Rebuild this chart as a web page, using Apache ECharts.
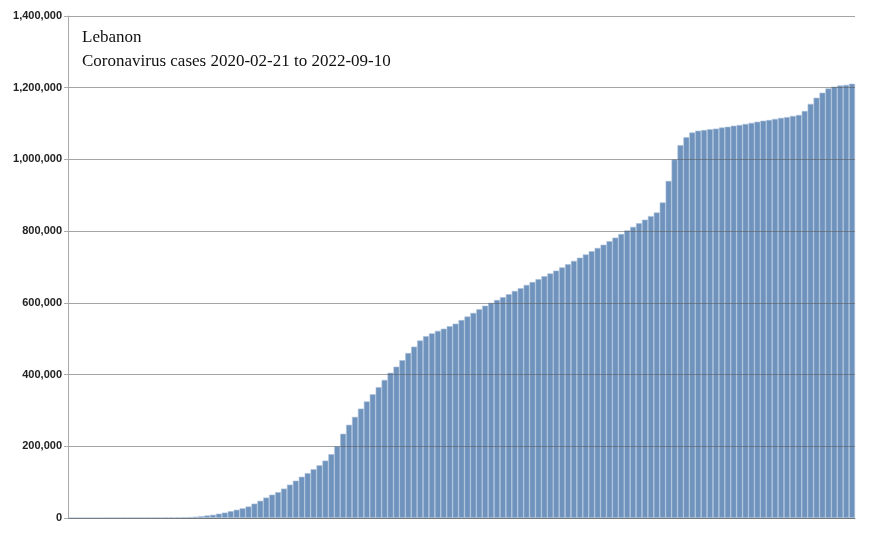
<!DOCTYPE html>
<html><head><meta charset="utf-8">
<script src="https://cdn.jsdelivr.net/npm/echarts@6/dist/echarts.min.js"></script>
<style>html,body{margin:0;padding:0;background:#fff}#c{width:875px;height:534px}</style>
</head><body><div id="c"></div>
<script>
const weekIndex = Array.from({length:133},(_, i)=>'W'+i);
const cases = [0,3,16,50,150,300,450,550,650,700,730,750,800,900,1000,1100,1200,1400,1600,2000,
2500,3500,5000,7000,9000,12000,15000,19000,23000,27000,32000,40000,48000,57000,65000,72000,82000,93000,104000,115000,
125000,136000,147000,160000,178000,200000,235000,260000,282000,305000,325000,345000,365000,385000,405000,422000,440000,460000,478000,495000,
507000,515000,522000,528000,535000,542000,552000,562000,572000,582000,592000,600000,608000,616000,624000,633000,641000,650000,658000,666000,
674000,682000,690000,699000,708000,717000,726000,735000,744000,753000,762000,772000,782000,792000,802000,812000,822000,832000,842000,852000,
880000,940000,1000000,1040000,1062000,1075000,1080000,1082000,1084000,1086000,1089000,1091000,1094000,1096000,1099000,1102000,1105000,1108000,1110000,1113000,
1116000,1118000,1121000,1124000,1135000,1155000,1172000,1186000,1198000,1203000,1206000,1208000,1211000];
const titleLines = ['Lebanon','Coronavirus cases 2020-02-21 to 2022-09-10'];
const chart = echarts.init(document.getElementById('c'));
chart.setOption({
  animation:false,
  grid:{left:68,right:20,top:16,bottom:16},
  graphic:[{type:'text',left:82,top:26,z:10,style:{text:titleLines.join('\n'),font:'17px "Liberation Serif"',lineHeight:24,fill:'#111'}}],
  xAxis:{type:'category',data:weekIndex,axisLabel:{show:false},axisTick:{show:false},
    axisLine:{lineStyle:{color:'#999'}},splitLine:{show:false}},
  yAxis:{type:'value',min:0,max:1400000,interval:200000,z:5,
    axisLine:{show:true,lineStyle:{color:'#aaa'}},axisTick:{show:true,length:4,lineStyle:{color:'#aaa'}},
    axisLabel:{color:'#222',fontFamily:'Liberation Sans',fontSize:11,fontWeight:'bold',margin:6,
      formatter:v=>v.toLocaleString('en-US')},
    splitLine:{lineStyle:{color:'rgba(90,90,90,0.55)',width:1}}},
  series:[{type:'bar',data:cases,barCategoryGap:0,z:2,
    itemStyle:{color:'#6f93bd',borderColor:'#a8bfda',borderWidth:0.6}}]
});
</script></body></html>
